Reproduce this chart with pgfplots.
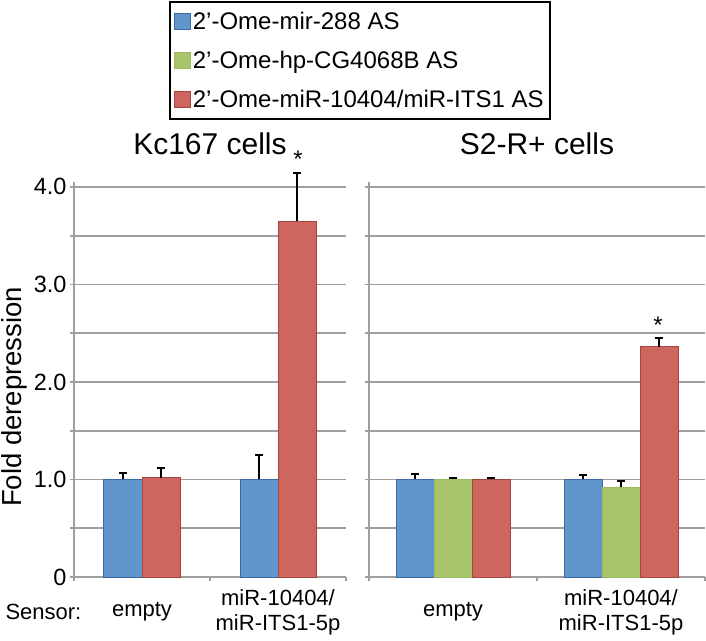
\documentclass[border=0pt]{standalone}
\usepackage{fontspec}
\setmainfont{Liberation Sans}
\usepackage{pgfplots}
\pgfplotsset{compat=1.18}
\definecolor{bfill}{RGB}{97,150,204}
\definecolor{bdraw}{RGB}{60,106,165}
\definecolor{gfill}{RGB}{168,197,108}
\definecolor{gdraw}{RGB}{155,185,98}
\definecolor{rfill}{RGB}{206,102,96}
\definecolor{rdraw}{RGB}{168,68,64}
\definecolor{gridc}{RGB}{158,158,158}
\pgfplotsset{
  panel/.style={
    scale only axis, height=395pt, ymin=0, ymax=4.05, xmin=-0.5, xmax=1.5,
    enlargelimits=false,
    axis x line=bottom, axis y line=left,
    axis line style={-, draw=gridc, line width=1.8pt},
    ymajorgrids, grid style={draw=gridc, line width=1.8pt},
    ytick={0,0.5,1,1.5,2,2.5,3,3.5,4},
    tick align=outside, major tick length=4pt,
    tick style={draw=gridc, line width=1.8pt},
    xtick={-0.5,0.5,1.5}, xticklabels={},
    extra x ticks={0,1},
    extra x tick labels={empty,{miR-10404/\\miR-ITS1-5p}},
    extra x tick style={major tick length=0pt,
      xticklabel style={align=center, anchor=center, yshift=-35pt, font=\fontsize{22}{25}\selectfont}},
    yticklabel style={font=\fontsize{23.5}{26}\selectfont},
    ybar=0pt, bar width=38pt,
    legend image code/.code={\draw[#1, line width=0.8pt] (0pt,-8pt) rectangle (16pt,8pt);},
    error bars/y dir=plus, error bars/y explicit,
    error bars/error bar style={black, line width=2pt},
    error bars/error mark options={rotate=90, black, line width=2pt, mark size=4pt},
    clip=false,
    title style={at={(0.5,1)}, anchor=base, yshift=21pt, font=\fontsize{30}{34}\selectfont},
  },
  blueb/.style={fill=bfill, draw=bdraw, line width=1pt},
  greenb/.style={fill=gfill, draw=gdraw, line width=1pt},
  redb/.style={fill=rfill, draw=rdraw, line width=1pt},
}
\begin{document}
\begin{tikzpicture}[x=1pt,y=1pt]
\useasboundingbox (0,0) rectangle (706,640);
\begin{axis}[panel, at={(74pt,63pt)}, anchor=south west, width=272pt,
  title={Kc167 cells},
  yticklabels={0,,1.0,,2.0,,3.0,,4.0},
  ylabel={Fold derepression},
  ylabel style={at={(axis description cs:-0.219,0.456)}, anchor=center, inner sep=0pt, font=\fontsize{27.5}{30}\selectfont},
]
\addplot[blueb] coordinates {(0,1.00) +- (0,0.07) (1,1.00) +- (0,0.255)};
\addplot[redb] coordinates {(0,1.02) +- (0,0.095) (1,3.65) +- (0,0.49)};
\node[font=\fontsize{24}{26}\selectfont, anchor=base] at (axis cs:1.147,4.2) {*};
\end{axis}
\begin{axis}[panel, at={(369pt,63pt)}, anchor=south west, width=336pt,
  title={S2-R+ cells},
  yticklabels={},
  legend style={at={(axis description cs:-0.595,1.458)}, anchor=north west,
    draw=black, line width=2pt, font=\fontsize{24}{27}\selectfont,
    inner xsep=4pt, inner ysep=8pt, row sep=16pt,
    /tikz/every even column/.append style={column sep=1pt}},
  legend cell align=left,
]
\addplot[blueb] coordinates {(0,1.00) +- (0,0.055) (1,1.00) +- (0,0.045)};
\addplot[greenb] coordinates {(0,1.00) +- (0,0.012) (1,0.92) +- (0,0.06)};
\addplot[redb] coordinates {(0,1.00) +- (0,0.012) (1,2.36) +- (0,0.09)};
\legend{2’-Ome-mir-288 AS, 2’-Ome-hp-CG4068B AS, 2’-Ome-miR-10404/miR-ITS1 AS}
\node[font=\fontsize{24}{26}\selectfont, anchor=base] at (axis cs:1.22,2.50) {*};
\end{axis}
\node[anchor=west, font=\fontsize{22}{25}\selectfont] at (2,28) {Sensor:};
\end{tikzpicture}
\end{document}
